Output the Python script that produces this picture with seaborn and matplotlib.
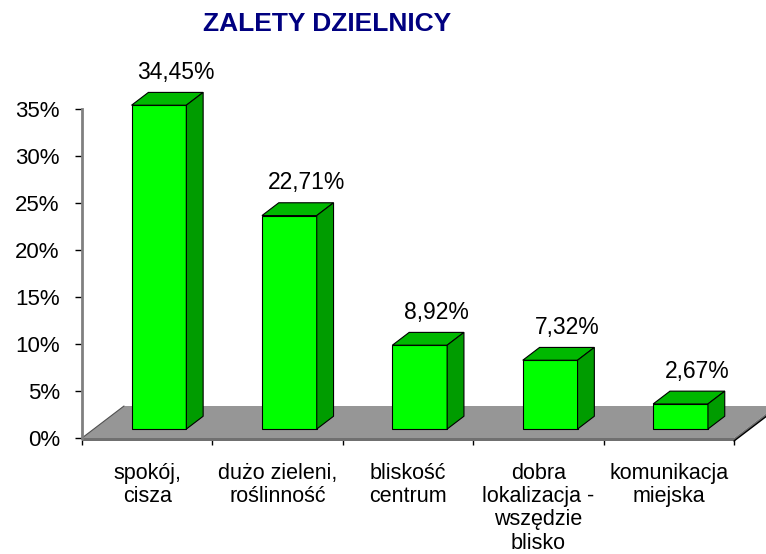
import matplotlib
matplotlib.use("Agg")
import matplotlib.pyplot as plt
import seaborn as sns
from matplotlib.patches import Polygon
from matplotlib.ticker import FuncFormatter

# Data
categories = ["spokój,\ncisza", "dużo zieleni,\nroślinność", "bliskość\ncentrum",
              "dobra\nlokalizacja -\nwszędzie\nblisko", "komunikacja\nmiejska"]
values = [34.45, 22.71, 8.92, 7.32, 2.67]
y_ticks = [0, 5, 10, 15, 20, 25, 30, 35]

# Style
FRONT = "#00FF00"
TOP = "#00B800"
SIDE = "#009C00"
FLOOR = "#969696"
FLOOR_EDGE = "#707070"
AXIS_GREY = "#808080"
TITLE_COLOR = "#000080"

sns.set_theme(style="white")
plt.rcParams["font.family"] = ["Liberation Sans", "DejaVu Sans"]
plt.rcParams["text.color"] = "black"
plt.rcParams["xtick.color"] = "black"
plt.rcParams["ytick.color"] = "black"

fig = plt.figure(figsize=(7.66, 5.54), dpi=100)
ax = fig.add_axes([82 / 766, 116 / 554, 652 / 766, 329 / 554])

sns.barplot(x=categories, y=values, color=FRONT, saturation=1, width=0.42,
            edgecolor="black", linewidth=0.8, ax=ax, zorder=3)
bars = list(ax.patches)

ax.set_xlim(-0.5, len(categories) - 0.5)
ax.set_ylim(0, 35)

# pixel -> data conversions for the pseudo-3D depth
p0 = ax.transData.transform((0, 0))
p1 = ax.transData.transform((1, 1))
ppx, ppy = p1[0] - p0[0], p1[1] - p0[1]
ddx, ddy = 42 / ppx, 32 / ppy          # depth of the floor
t = 3 / ppy                            # floor thickness
f0, fb = 0.28, 0.40                    # bar front position / bar depth (fractions of floor depth)

xl, xr = ax.get_xlim()
floor = Polygon([(xl, 0), (xr, 0), (xr + ddx, ddy), (xl + ddx, ddy)],
                fc=FLOOR, ec="none", zorder=1, clip_on=False)
ax.add_patch(floor)
ax.add_patch(Polygon([(xl, 0), (xr, 0), (xr, -t), (xl, -t)],
                     fc=FLOOR_EDGE, ec="none", zorder=1, clip_on=False))
ax.add_patch(Polygon([(xr, 0), (xr + ddx, ddy), (xr + ddx, ddy - t), (xr, -t)],
                     fc=FLOOR_EDGE, ec="none", zorder=1, clip_on=False))
ax.plot([xr, xr + ddx], [-t, ddy - t], color="black", lw=1, clip_on=False, zorder=2)
ax.plot([xl, xl + ddx], [0, ddy], color="#505050", lw=0.8, clip_on=False, zorder=2)

# 3D bars: shift front faces back, add top and side faces
bdx, bdy = fb * ddx, fb * ddy
for bar, v in zip(bars, values):
    x0 = bar.get_x() + f0 * ddx
    w = bar.get_width()
    y0 = f0 * ddy
    h = bar.get_height()
    bar.set_x(x0)
    bar.set_y(y0)
    bar.set_clip_on(False)
    x1, top = x0 + w, y0 + h
    ax.add_patch(Polygon([(x0, top), (x1, top), (x1 + bdx, top + bdy), (x0 + bdx, top + bdy)],
                         fc=TOP, ec="black", lw=0.8, zorder=3, clip_on=False))
    ax.add_patch(Polygon([(x1, y0), (x1 + bdx, y0 + bdy), (x1 + bdx, top + bdy), (x1, top)],
                         fc=SIDE, ec="black", lw=0.8, zorder=3, clip_on=False))
    label = f"{v:.2f}%".replace(".", ",")
    ax.annotate(label, xy=(x0 + w / 2 + bdx, top + bdy), xytext=(0, 14.5),
                textcoords="offset points", ha="center", va="center", fontsize=16.5,
                annotation_clip=False)

# Axes
for side in ["top", "right", "bottom"]:
    ax.spines[side].set_visible(False)
ax.spines["left"].set_color(AXIS_GREY)
ax.spines["left"].set_linewidth(2)

ax.set_yticks(y_ticks)
ax.yaxis.set_major_formatter(FuncFormatter(lambda v, _: f"{v:.0f}%"))
ax.tick_params(axis="y", left=True, length=5, width=1, color="black", pad=11, labelsize=16)

ax.set_xticks(range(len(categories)), categories)
ax.set_xticks([i - 0.5 for i in range(len(categories) + 1)], minor=True)
ax.tick_params(axis="x", which="major", bottom=False, length=0, pad=18, labelsize=15.5)
ax.tick_params(axis="x", which="minor", bottom=True, length=5, width=1, color="black")
for lab in ax.get_xticklabels():
    lab.set_linespacing(1.14)
ax.set_xlabel("")
ax.set_ylabel("")
ax.grid(False)

fig.text(327 / 766, 1 - 24 / 554, "ZALETY DZIELNICY", ha="center", va="center",
         fontsize=19, fontweight="bold", color=TITLE_COLOR)

fig.savefig("out.png", dpi=100)
